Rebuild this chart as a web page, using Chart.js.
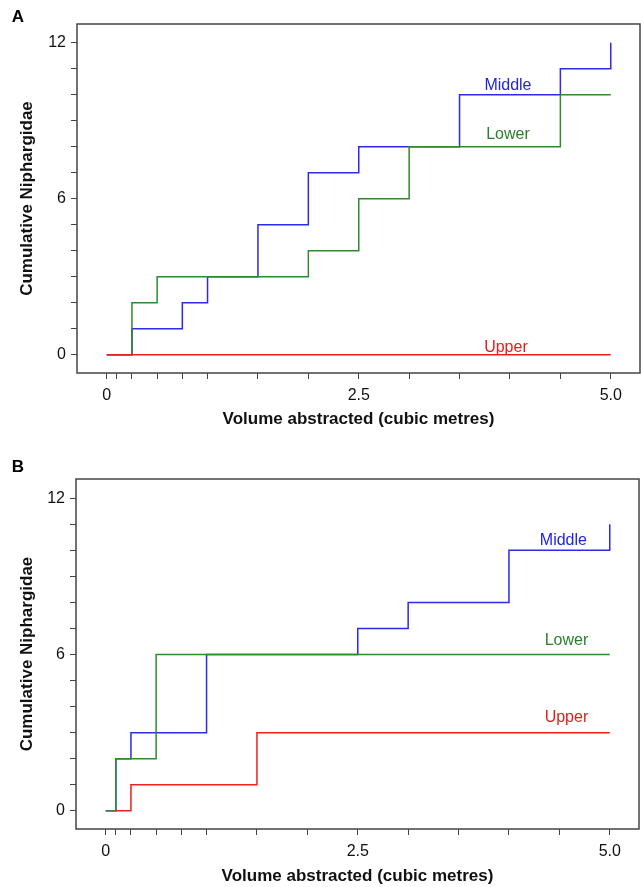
<!DOCTYPE html>
<html>
<head>
<meta charset="utf-8">
<script src="https://cdn.jsdelivr.net/npm/chart.js@4.4.1/dist/chart.umd.min.js"></script>
<style>
  body { margin: 0; background: #fff; }
  canvas { display: block; }
</style>
</head>
<body>
<canvas id="chartA" width="641" height="443"></canvas>
<canvas id="chartB" width="641" height="444"></canvas>
<script>
// volume abstracted at each sample (cubic metres)
var volumes = [0, 0.1, 0.25, 0.5, 0.75, 1.0, 1.5, 2.0, 2.5, 3.0, 3.5, 4.0, 4.5, 5.0];

// panel A - cumulative Niphargidae
var middleA = [0, 0, 1, 1, 2, 3, 5, 7, 8, 8, 10, 10, 11, 12];
var lowerA  = [0, 0, 2, 3, 3, 3, 3, 4, 6, 8, 8, 8, 10, 10];
var upperA  = [0, 0, 0, 0, 0, 0, 0, 0, 0, 0, 0, 0, 0, 0];

// panel B
var middleB = [0, 2, 3, 3, 3, 6, 6, 6, 7, 8, 8, 10, 10, 11];
var lowerB  = [0, 2, 2, 6, 6, 6, 6, 6, 6, 6, 6, 6, 6, 6];
var upperB  = [null, 0, 1, 1, 1, 1, 3, 3, 3, 3, 3, 3, 3, 3];

var seriesNames = ['Middle', 'Lower', 'Upper'];

var xTickValues = volumes;
var xTickLabels = {0: '0', 2.5: '2.5', 5: '5.0'};
var yTickValues = [0, 1, 2, 3, 4, 5, 6, 7, 8, 9, 10, 11, 12];
var yTickLabels = {0: '0', 6: '6', 12: '12'};

var FONT = '"Liberation Sans", Arial, sans-serif';
var BLUE = '#2b2be8', GREEN = '#2f8a2f', RED = '#ee2020';

function points(arr) {
  return volumes.map(function (v, i) { return {x: v, y: arr[i]}; });
}

function line(name, arr, color) {
  return {
    label: name,
    data: points(arr),
    borderColor: color,
    borderWidth: 1.5,
    pointRadius: 0,
    stepped: 'before',
    fill: false
  };
}

// box round the plot, series names and panel letter
var framePlugin = {
  id: 'frame',
  afterDraw: function (chart, args, opts) {
    var ctx = chart.ctx, a = chart.chartArea;
    ctx.save();
    ctx.strokeStyle = '#444';
    ctx.lineWidth = 1.5;
    ctx.strokeRect(a.left, a.top, a.right - a.left, a.bottom - a.top);
    ctx.font = '16px ' + FONT;
    ctx.textAlign = 'center';
    ctx.textBaseline = 'middle';
    opts.labels.forEach(function (l) {
      ctx.fillStyle = l.color;
      ctx.fillText(l.text, chart.scales.x.getPixelForValue(l.x), chart.scales.y.getPixelForValue(l.y));
    });
    ctx.font = 'bold 17px ' + FONT;
    ctx.fillStyle = '#000';
    ctx.fillText(opts.letter, 18, opts.letterY);
    ctx.restore();
  }
};

function makeChart(id, middle, lower, upper, p) {
  return new Chart(document.getElementById(id), {
    type: 'line',
    data: {
      // upper first so it is drawn on top
      datasets: [line(seriesNames[2], upper, RED), line(seriesNames[1], lower, GREEN), line(seriesNames[0], middle, BLUE)]
    },
    options: {
      responsive: false,
      animation: false,
      layout: {padding: {top: p.padTop, right: p.padRight, left: 0, bottom: 0}},
      plugins: {
        legend: {display: false},
        tooltip: {enabled: false},
        frame: {labels: p.labels, letter: p.letter, letterY: p.letterY}
      },
      scales: {
        x: {
          type: 'linear',
          min: -0.295, max: 5.29,
          border: {display: false},
          grid: {drawOnChartArea: false, drawTicks: true, tickLength: 6, color: '#444'},
          afterBuildTicks: function (s) { s.ticks = xTickValues.map(function (v) { return {value: v}; }); },
          afterFit: function (s) { s.height = p.xHeight; },
          ticks: {
            autoSkip: false, maxRotation: 0, padding: 7, color: '#111',
            font: {family: FONT, size: 16},
            callback: function (v) { return xTickLabels[v] || ''; }
          },
          title: {
            display: true, text: 'Volume abstracted (cubic metres)', color: '#111',
            font: {family: FONT, size: 17, weight: 'bold'},
            padding: {top: 0, bottom: p.xTitlePad}
          }
        },
        y: {
          type: 'linear',
          min: p.yMin, max: p.yMax,
          border: {display: false},
          grid: {drawOnChartArea: false, drawTicks: true, tickLength: 6, color: '#444'},
          afterBuildTicks: function (s) { s.ticks = yTickValues.map(function (v) { return {value: v}; }); },
          afterFit: function (s) { s.width = p.yWidth; },
          ticks: {
            autoSkip: false, padding: 5, color: '#111',
            font: {family: FONT, size: 16},
            callback: function (v) { return yTickLabels[v] || ''; }
          },
          title: {
            display: true, text: 'Cumulative Niphargidae', color: '#111',
            font: {family: FONT, size: 17, weight: 'bold'},
            padding: {top: 17, bottom: 0}
          }
        }
      }
    },
    plugins: [framePlugin]
  });
}

makeChart('chartA', middleA, lowerA, upperA, {
  padTop: 24, padRight: 1, yWidth: 77, xHeight: 70, xTitlePad: 13,
  yMin: -0.7, yMax: 12.72, letter: 'A', letterY: 17,
  labels: [
    {text: 'Middle', x: 3.98, y: 10.37, color: '#2424d8'},
    {text: 'Lower', x: 3.98, y: 8.45, color: '#2a7f2a'},
    {text: 'Upper', x: 3.96, y: 0.27, color: '#e81c1c'}
  ]
});

makeChart('chartB', middleB, lowerB, upperB, {
  padTop: 36, padRight: 2, yWidth: 76, xHeight: 58, xTitlePad: 0,
  yMin: -0.7, yMax: 12.74, letter: 'B', letterY: 24,
  labels: [
    {text: 'Middle', x: 4.54, y: 10.36, color: '#2424d8'},
    {text: 'Lower', x: 4.57, y: 6.52, color: '#2a7f2a'},
    {text: 'Upper', x: 4.57, y: 3.57, color: '#e81c1c'}
  ]
});
</script>
</body>
</html>
